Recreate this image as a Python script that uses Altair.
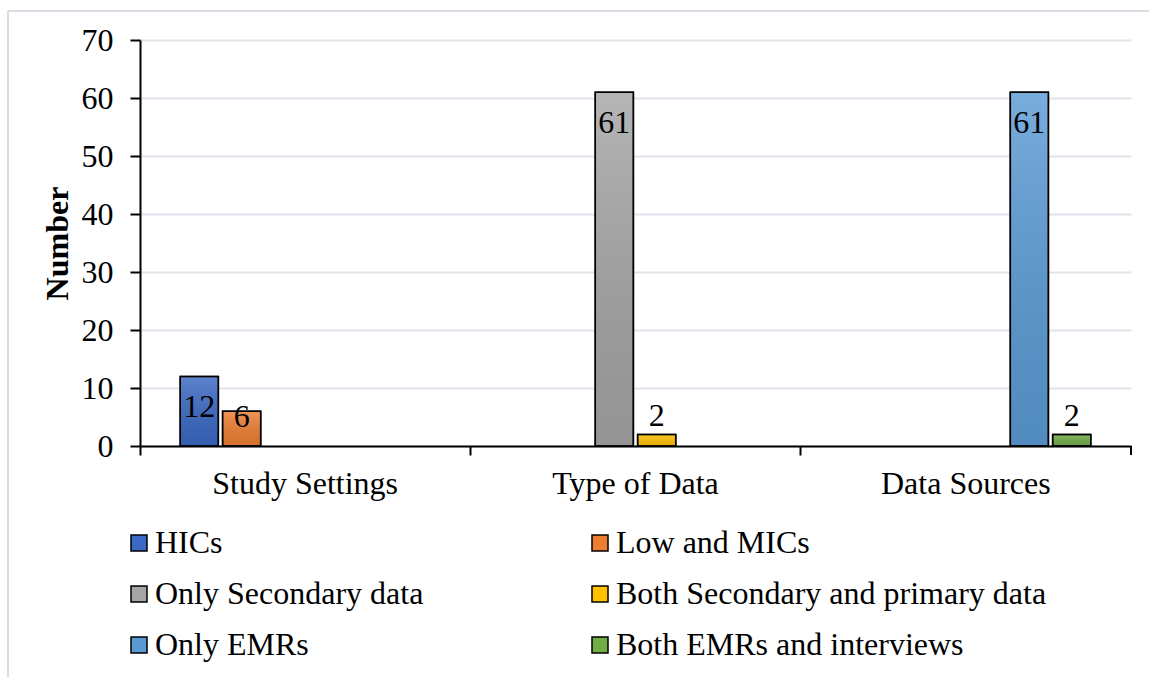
import altair as alt
import pandas as pd

categories = ["Study Settings", "Type of Data", "Data Sources"]
series = ["HICs", "Low and MICs", "Only Secondary data",
          "Both Secondary and primary data", "\u00a0Only EMRs",
          "Both EMRs and interviews"]
series_category = ["Study Settings", "Study Settings", "Type of Data",
                   "Type of Data", "Data Sources", "Data Sources"]
values = [12, 6, 61, 2, 61, 2]
y_ticks = [0, 10, 20, 30, 40, 50, 60, 70]
colors = ["#3a68c4", "#ed7d31", "#a5a5a5", "#ffc000", "#5b9bd5", "#70ad47"]

df = pd.DataFrame({"category": series_category, "series": series, "value": values})

FONT = "Liberation Serif"
FS = 32
W, H = 991, 406

x = alt.X("category:N", sort=categories, title=None,
          scale=alt.Scale(domain=categories, paddingInner=0, paddingOuter=0),
          axis=alt.Axis(bandPosition=0, labelAngle=0, labelFont=FONT, labelFontSize=FS,
                        labelColor="black", labelPadding=13, tickSize=9, tickColor="black",
                        tickWidth=2, domainColor="black", domainWidth=2, grid=False,
                        labelBaseline="top", labelLimit=400))
xo = alt.XOffset("series:N", sort=series,
                 scale=alt.Scale(domain=series, paddingInner=0.1, paddingOuter=0.95))
y = alt.Y("value:Q", scale=alt.Scale(domain=[0, 70], nice=False),
          axis=alt.Axis(values=y_ticks, title="Number", titleFont=FONT, titleFontSize=FS,
                        titleFontWeight="bold", titleColor="black", titlePadding=7,
                        labelFont=FONT, labelFontSize=FS, labelColor="black", labelPadding=17,
                        tickSize=10, tickColor="black", tickWidth=2, domainColor="black",
                        domainWidth=2, grid=True, gridColor="#e0e3e9", gridWidth=2))

color = alt.Color("series:N", sort=series,
                  scale=alt.Scale(domain=series, range=colors),
                  legend=alt.Legend(title=None, orient="none", legendX=-17, legendY=487,
                                    direction="horizontal",
                                    columns=2, columnPadding=160, rowPadding=19,
                                    symbolType="square", symbolSize=256,
                                    symbolStrokeColor="black", symbolStrokeWidth=1.5,
                                    symbolOpacity=1, labelFont=FONT, labelFontSize=FS,
                                    labelColor="black", labelOffset=0, labelLimit=700))

base = alt.Chart(df).encode(x=x, xOffset=xo, y=y)

bars = base.mark_bar(stroke="black", strokeWidth=1.5, opacity=1).encode(color=color)

grad = alt.LinearGradient(
    gradient="linear", x1=0, x2=0, y1=0, y2=1,
    stops=[alt.GradientStop(color="rgba(255,255,255,0.18)", offset=0),
           alt.GradientStop(color="rgba(0,0,0,0.10)", offset=1)])
shade = base.mark_bar(fill=grad, stroke="black", strokeWidth=1.5)

txt = dict(font=FONT, fontSize=FS, color="black")
lab_big = base.transform_filter("datum.value >= 10").mark_text(
    baseline="alphabetic", dy=41, **txt).encode(text="value:Q")
lab_mid = base.transform_filter("datum.value >= 3 && datum.value < 10").mark_text(
    baseline="alphabetic", dy=16, **txt).encode(text="value:Q")
lab_small = base.transform_filter("datum.value < 3").mark_text(
    baseline="alphabetic", dy=-8, **txt).encode(text="value:Q")

end_tick = alt.Chart(df).mark_rule(color="black", strokeWidth=2).encode(
    x=alt.value(W), y=alt.value(H), y2=alt.value(H + 9))
border_top = alt.Chart(df).mark_rule(color="#d9dde3", strokeWidth=1.5).encode(
    x=alt.value(-132), x2=alt.value(1149 - 140), y=alt.value(-29))
border_left = alt.Chart(df).mark_rule(color="#d9dde3", strokeWidth=1.5).encode(
    x=alt.value(-132), y=alt.value(-29), y2=alt.value(677 - 40))

chart = alt.layer(bars, shade, lab_big, lab_mid, lab_small, end_tick,
                  border_top, border_left).properties(
    width=W, height=H,
    autosize=alt.AutoSizeParams(type="none"),
    padding={"left": 140, "top": 40, "right": 18, "bottom": 231},
    background="white",
).configure_view(stroke="transparent")

chart.save("out.html", embed_options={"renderer": "svg", "actions": False})
